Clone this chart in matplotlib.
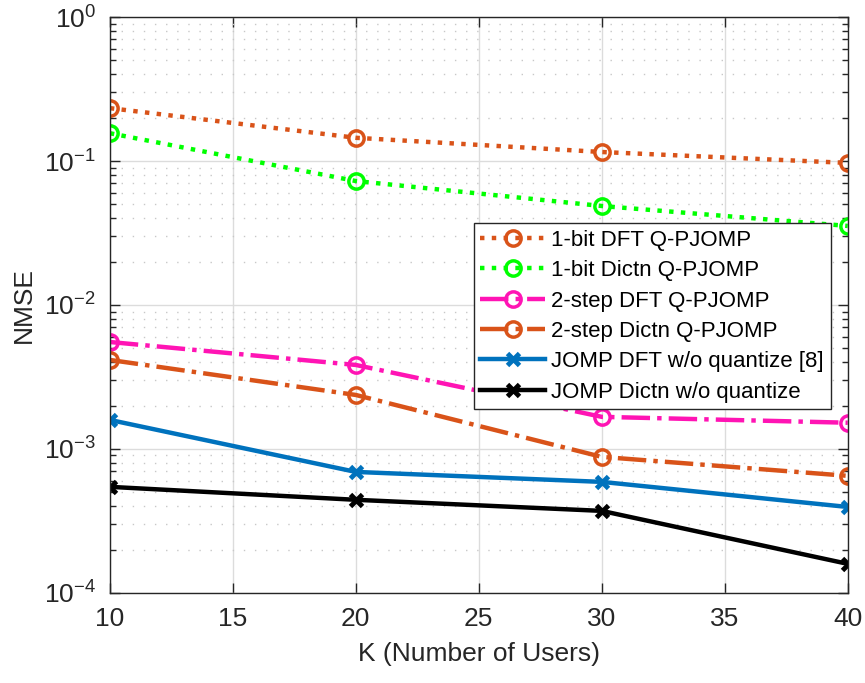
import matplotlib
matplotlib.use('Agg')
import matplotlib.pyplot as plt
from matplotlib.ticker import LogLocator, NullFormatter

plt.rcParams['font.family'] = ['Liberation Sans', 'DejaVu Sans']
plt.rcParams['mathtext.default'] = 'regular'

# number of users
K = [10, 20, 30, 40]

# NMSE curves
nmse_1bit_dft = [0.233, 0.145, 0.1155, 0.097]
nmse_1bit_dict = [0.156, 0.0726, 0.0487, 0.0354]
nmse_2step_dft = [0.00553, 0.00383, 0.00167, 0.00152]
nmse_2step_dict = [0.00415, 0.00237, 0.00088, 0.00065]
nmse_jomp_dft = [0.00159, 0.000692, 0.00059, 0.000395]
nmse_jomp_dict = [0.000545, 0.000443, 0.000371, 0.000159]

labels = ['1-bit DFT Q-PJOMP', '1-bit Dictn Q-PJOMP', '2-step DFT Q-PJOMP',
          '2-step Dictn Q-PJOMP', 'JOMP DFT w/o quantize [8]', 'JOMP Dictn w/o quantize']

orange = '#D95319'
green = '#00FF00'
pink = '#FF14B4'
blue = '#0072BD'

fig = plt.figure(figsize=(8.65, 6.83), dpi=100)
ax = fig.add_axes([0.127, 0.132, 0.853, 0.843])

circ = dict(marker='o', markersize=11, markerfacecolor='none', markeredgewidth=2.5)
cross = dict(marker='x', markersize=8, markeredgewidth=3.5)

ax.plot(K, nmse_1bit_dft, ':', color=orange, lw=3.2, label=labels[0], **circ)
ax.plot(K, nmse_1bit_dict, ':', color=green, lw=3.2, label=labels[1], **circ)
ax.plot(K, nmse_2step_dft, '-.', color=pink, lw=3.2, label=labels[2], **circ)
ax.plot(K, nmse_2step_dict, '-.', color=orange, lw=3.2, label=labels[3], **circ)
ax.plot(K, nmse_jomp_dft, '-', color=blue, lw=3.2, label=labels[4], **cross)
ax.plot(K, nmse_jomp_dict, '-', color='black', lw=3.2, label=labels[5], **cross)

ax.set_yscale('log')
ax.set_xlim(10, 40)
ax.set_ylim(1e-4, 1)
ax.set_xticks([10, 15, 20, 25, 30, 35, 40])
ax.yaxis.set_major_locator(LogLocator(base=10, numticks=10))
ax.yaxis.set_minor_locator(LogLocator(base=10, subs=range(2, 10), numticks=10))
ax.yaxis.set_minor_formatter(NullFormatter())

ax.grid(True, which='major', color='#dcdcdc', lw=1.0, ls='-')
ax.grid(True, which='minor', axis='y', color='#c8c8c8', lw=1.0, ls=(0, (1, 7)))
ax.set_axisbelow(True)

ax.tick_params(which='both', direction='in', top=True, right=True,
               colors='#262626', labelsize=19, width=1.0)
ax.tick_params(which='major', length=7, pad=10)
ax.tick_params(which='minor', length=4)
for s in ax.spines.values():
    s.set_color('#262626')
    s.set_linewidth(1.0)

ax.set_xlabel('K (Number of Users)', fontsize=19, color='#262626', labelpad=8)
ax.set_ylabel('NMSE', fontsize=19, color='#262626', labelpad=6)

leg = ax.legend(loc='upper right', bbox_to_anchor=(0.977, 0.642), fontsize=16,
                handlelength=2.9, borderaxespad=0, borderpad=0.3, labelspacing=0.42,
                handletextpad=0.3, fancybox=False, framealpha=1, edgecolor='#262626')
leg.get_frame().set_linewidth(1.0)

fig.savefig('out.png', dpi=100)
